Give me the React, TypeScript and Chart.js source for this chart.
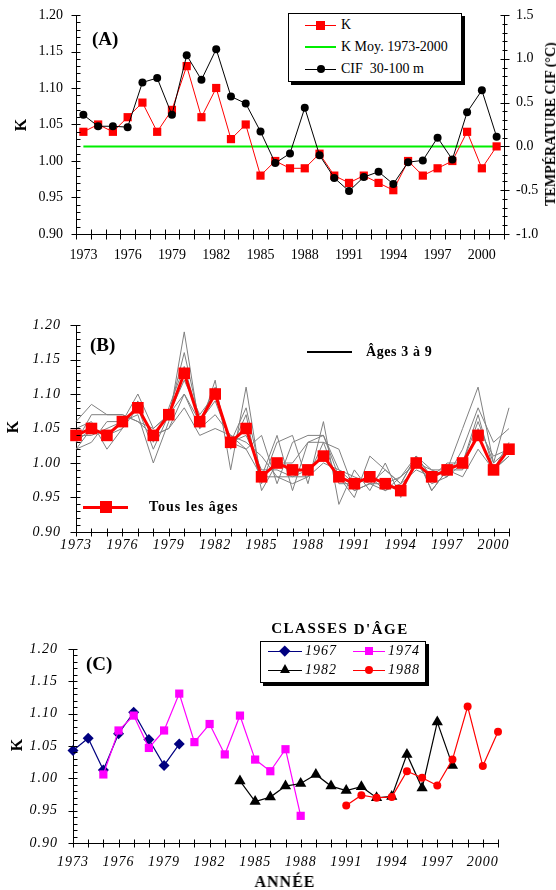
import React, { useEffect, useRef } from "react";
import { Chart, registerables } from "chart.js";
Chart.register(...registerables);

const FONT = '"Liberation Serif", "Times New Roman", serif';

const years = ["1973","1974","1975","1976","1977","1978","1979","1980","1981","1982","1983","1984","1985","1986","1987","1988","1989","1990","1991","1992","1993","1994","1995","1996","1997","1998","1999","2000","2001"];

// Panel A
const kValues = [1.04,1.05,1.04,1.06,1.08,1.04,1.07,1.13,1.06,1.10,1.03,1.05,0.98,1.00,0.99,0.99,1.01,0.98,0.97,0.98,0.97,0.96,1.00,0.98,0.99,1.00,1.04,0.99,1.02];
const kMean = 1.02;
const cifValues = [0.36,0.23,0.23,0.22,0.73,0.78,0.36,1.04,0.76,1.11,0.57,0.49,0.17,-0.19,-0.08,0.44,-0.10,-0.36,-0.51,-0.35,-0.29,-0.43,-0.18,-0.16,0.10,-0.15,0.39,0.64,0.11];

// Panel B : ages 3 to 9
const age3 = [1.02,1.03,1.06,1.06,1.07,1.00,1.06,1.19,1.05,1.12,0.99,1.11,0.97,1.03,1.04,0.97,1.06,0.94,0.99,0.96,1.00,0.95,1.01,0.96,0.99,1.05,1.11,1.00,1.08];
const age4 = [1.06,1.085,1.07,1.07,1.06,1.05,1.07,1.16,1.06,1.09,1.03,1.08,0.98,1.04,0.96,1.03,1.04,0.98,0.95,1.01,0.99,0.97,1.01,0.99,0.98,1.02,1.08,1.03,1.05];
const age5 = [1.05,1.06,1.02,1.05,1.09,1.03,1.08,1.14,1.06,1.11,1.02,1.07,0.96,1.00,1.00,1.03,1.03,0.97,0.97,0.98,0.96,0.98,1.01,0.98,1.00,1.00,1.07,0.99,1.03];
const age6 = [1.04,1.04,1.05,1.06,1.10,1.05,1.07,1.12,1.07,1.10,1.03,1.04,0.99,0.99,0.98,0.98,1.00,0.99,0.97,0.98,0.97,0.96,1.00,0.99,0.99,0.99,1.05,1.01,1.02];
const age7 = [1.03,1.05,1.04,1.06,1.08,1.02,1.07,1.10,1.06,1.10,1.03,1.02,0.98,0.98,0.98,0.99,1.01,0.98,0.96,0.97,0.96,0.97,0.99,0.98,0.99,1.00,1.04,0.99,1.01];
const age8 = [1.02,1.05,1.04,1.05,1.08,1.04,1.05,1.10,1.05,1.07,1.04,1.03,1.01,0.98,0.97,0.98,1.03,1.02,0.96,0.97,0.97,0.98,1.00,0.97,0.98,1.00,1.06,1.00,1.02];
const age9 = [1.03,1.07,1.07,1.07,1.06,1.04,1.05,1.08,1.04,1.05,1.04,1.02,1.04,0.97,1.03,1.04,1.04,0.99,0.98,0.97,0.99,0.97,1.01,0.96,0.99,0.98,1.02,0.99,1.01];
const allAges = [1.04,1.05,1.04,1.06,1.08,1.04,1.07,1.13,1.06,1.10,1.03,1.05,0.98,1.00,0.99,0.99,1.01,0.98,0.97,0.98,0.97,0.96,1.00,0.98,0.99,1.00,1.04,0.99,1.02];

// Panel C : year classes
const _ = null;
const cohort1967 = [1.043,1.062,1.013,1.069,1.102,1.060,1.020,1.053,_,_,_,_,_,_,_,_,_,_,_,_,_,_,_,_,_,_,_,_,_];
const cohort1974 = [_,_,1.006,1.074,1.097,1.047,1.074,1.131,1.056,1.084,1.037,1.097,1.029,1.011,1.045,0.942,_,_,_,_,_,_,_,_,_,_,_,_,_];
const cohort1982 = [_,_,_,_,_,_,_,_,_,_,_,0.996,0.964,0.971,0.988,0.992,1.006,0.988,0.981,0.987,0.970,0.972,1.037,0.985,1.087,1.020,_,_,_];
const cohort1988 = [_,_,_,_,_,_,_,_,_,_,_,_,_,_,_,_,_,_,0.958,0.974,0.970,0.971,1.011,1.001,0.989,1.029,1.111,1.019,1.072];

type Mark = { p: number; out: number; inn: number };
type TickSpec = { id: string; side: "bottom" | "left" | "right"; marks: (s: any) => Mark[] };

function ticksPlugin(specs: TickSpec[], spacing: string) {
  return {
    id: "crossTicks",
    beforeDraw(chart: any) {
      (chart.ctx as any).letterSpacing = spacing;
    },
    afterDraw(chart: any) {
      const ctx = chart.ctx;
      ctx.save();
      ctx.strokeStyle = "#000";
      ctx.lineWidth = 1;
      ctx.beginPath();
      for (const sp of specs) {
        const s = chart.scales[sp.id];
        if (!s) continue;
        for (const m of sp.marks(s)) {
          const p = Math.round(m.p) + 0.5;
          if (sp.side === "bottom") {
            const y = Math.round(s.top) + 0.5;
            ctx.moveTo(p, y - m.inn);
            ctx.lineTo(p, y + m.out);
          } else if (sp.side === "left") {
            const x = Math.round(s.right) + 0.5;
            ctx.moveTo(x - m.out, p);
            ctx.lineTo(x + m.inn, p);
          } else {
            const x = Math.round(s.left) + 0.5;
            ctx.moveTo(x - m.inn, p);
            ctx.lineTo(x + m.out, p);
          }
        }
      }
      ctx.stroke();
      ctx.restore();
      (ctx as any).letterSpacing = "0px";
    },
  };
}

const yMarks = (min: number, max: number, minor: number, ratio: number, majOut: number, majIn: number, minOut: number, minIn: number) => (s: any) => {
  const arr: Mark[] = [];
  const n = Math.round((max - min) / minor);
  for (let i = 0; i <= n; i++) {
    const major = i % ratio === 0;
    arr.push({ p: s.getPixelForValue(min + i * minor), out: major ? majOut : minOut, inn: major ? majIn : minIn });
  }
  return arr;
};
const catBoundMarks = (len: number) => (s: any) => {
  const n = years.length;
  const arr: Mark[] = [];
  for (let k = 0; k <= n; k++) arr.push({ p: s.left + (k * (s.right - s.left)) / n, out: len, inn: len });
  return arr;
};
const catCenterMarks = (len: number) => (s: any) => years.map((_y, i) => ({ p: s.getPixelForValue(i), out: len, inn: len }));

const every3 = (_v: any, i: number) => (i % 3 === 0 ? years[i] : "");

const fixV = (w: number) => (s: any) => { s.width = w; s.paddingTop = 0; s.paddingBottom = 0; };

function baseOptions(padTop: number, padRight: number) {
  return {
    responsive: false,
    animation: false as const,
    devicePixelRatio: 1,
    layout: { padding: { top: padTop, left: 0, right: padRight, bottom: 0 } },
    plugins: { legend: { display: false }, tooltip: { enabled: false } },
    elements: { line: { tension: 0 } },
  };
}

function makeA(canvas: HTMLCanvasElement) {
  return new Chart(canvas, {
    type: "line",
    data: {
      labels: years,
      datasets: [
        { label: "CIF  30-100 m", data: cifValues, yAxisID: "y1", borderColor: "#000", backgroundColor: "#000", borderWidth: 1, pointStyle: "circle", pointRadius: 4, pointBorderWidth: 0, clip: false },
        { label: "K", data: kValues, yAxisID: "y", borderColor: "#ff0000", backgroundColor: "#ff0000", borderWidth: 1, pointStyle: "rect", pointRadius: 5.8, pointBorderWidth: 0, clip: false },
        { label: "K Moy. 1973-2000", data: years.map(() => kMean), yAxisID: "y", borderColor: "#00ee00", borderWidth: 2, pointRadius: 0, clip: false },
      ],
    },
    options: {
      ...baseOptions(15, 0),
      scales: {
        x: {
          type: "category", offset: true,
          grid: { display: false, drawTicks: false, offset: true },
          border: { color: "#000", width: 1 },
          ticks: { autoSkip: false, maxRotation: 0, padding: 13, color: "#000", font: { family: FONT, size: 14 }, callback: every3 },
          afterFit: (s: any) => { s.height = 41; },
        },
        y: {
          position: "left", min: 0.9, max: 1.2,
          grid: { display: false, drawTicks: false },
          border: { color: "#000", width: 1 },
          ticks: { stepSize: 0.05, padding: 13, color: "#000", font: { family: FONT, size: 14 }, callback: (v: any) => Number(v).toFixed(2) },
          afterFit: fixV(76),
        },
        y1: {
          position: "right", min: -1, max: 1.5,
          grid: { display: false, drawTicks: false },
          border: { color: "#000", width: 1 },
          ticks: { stepSize: 0.5, padding: 12, color: "#000", font: { family: FONT, size: 14 }, callback: (v: any) => Number(v).toFixed(1) },
          afterFit: fixV(52),
        },
      },
    } as any,
    plugins: [ticksPlugin([
      { id: "x", side: "bottom", marks: catBoundMarks(5) },
      { id: "y", side: "left", marks: yMarks(0.9, 1.2, 0.01, 5, 5, 4, 0, 4) },
      { id: "y1", side: "right", marks: yMarks(-1, 1.5, 0.1, 5, 5, 4, 3, 2) },
    ], "0px")],
  });
}

function makeB(canvas: HTMLCanvasElement) {
  const grey = (d: number[]) => ({ data: d, borderColor: "#808080", borderWidth: 1, pointRadius: 0, clip: false });
  return new Chart(canvas, {
    type: "line",
    data: {
      labels: years,
      datasets: [
        { label: "Tous les âges", data: allAges, borderColor: "#ff0000", backgroundColor: "#ff0000", borderWidth: 3, pointStyle: "rect", pointRadius: 8.2, pointBorderWidth: 0, clip: false },
        { label: "Âge 3", ...grey(age3) },
        { label: "Âge 4", ...grey(age4) },
        { label: "Âge 5", ...grey(age5) },
        { label: "Âge 6", ...grey(age6) },
        { label: "Âge 7", ...grey(age7) },
        { label: "Âge 8", ...grey(age8) },
        { label: "Âge 9", ...grey(age9) },
      ],
    },
    options: {
      ...baseOptions(45, 47),
      scales: {
        x: {
          type: "category", offset: false,
          grid: { display: false, drawTicks: false },
          border: { color: "#000", width: 1 },
          ticks: { autoSkip: false, maxRotation: 0, padding: 5, color: "#000", font: { family: FONT, size: 14, style: "italic" }, callback: every3 },
          afterFit: (s: any) => { s.height = 48; },
        },
        y: {
          position: "left", min: 0.9, max: 1.2,
          grid: { display: false, drawTicks: false },
          border: { color: "#000", width: 1 },
          ticks: { stepSize: 0.05, padding: 15, color: "#000", font: { family: FONT, size: 14, style: "italic" }, callback: (v: any) => Number(v).toFixed(2) },
          afterFit: fixV(76),
        },
      },
    } as any,
    plugins: [ticksPlugin([
      { id: "x", side: "bottom", marks: catCenterMarks(4) },
      { id: "y", side: "left", marks: yMarks(0.9, 1.2, 0.01, 5, 6, 4, 0, 4) },
    ], "1px")],
  });
}

function makeC(canvas: HTMLCanvasElement) {
  return new Chart(canvas, {
    type: "line",
    data: {
      labels: years,
      datasets: [
        { label: "1988", data: cohort1988, borderColor: "#ff0000", backgroundColor: "#ff0000", borderWidth: 1.2, pointStyle: "circle", pointRadius: 4, pointBorderWidth: 0, clip: false, spanGaps: false },
        { label: "1982", data: cohort1982, borderColor: "#000", backgroundColor: "#000", borderWidth: 1.2, pointStyle: "triangle", pointRadius: 6.5, pointBorderWidth: 0, clip: false, spanGaps: false },
        { label: "1974", data: cohort1974, borderColor: "#ff00ff", backgroundColor: "#ff00ff", borderWidth: 1.2, pointStyle: "rect", pointRadius: 5.8, pointBorderWidth: 0, clip: false, spanGaps: false },
        { label: "1967", data: cohort1967, borderColor: "#000080", backgroundColor: "#000080", borderWidth: 1.2, pointStyle: "rectRot", pointRadius: 5.5, pointBorderWidth: 0, clip: false, spanGaps: false },
      ],
    },
    options: {
      ...baseOptions(49, 58),
      scales: {
        x: {
          type: "category", offset: false,
          grid: { display: false, drawTicks: false },
          border: { color: "#000", width: 1 },
          ticks: { autoSkip: false, maxRotation: 0, padding: 11, color: "#000", font: { family: FONT, size: 14, style: "italic" }, callback: every3 },
          afterFit: (s: any) => { s.height = 47; },
        },
        y: {
          position: "left", min: 0.9, max: 1.2,
          grid: { display: false, drawTicks: false },
          border: { color: "#000", width: 1 },
          ticks: { stepSize: 0.05, padding: 15, color: "#000", font: { family: FONT, size: 14, style: "italic" }, callback: (v: any) => Number(v).toFixed(2) },
          afterFit: fixV(73),
        },
      },
    } as any,
    plugins: [ticksPlugin([
      { id: "x", side: "bottom", marks: catCenterMarks(4) },
      { id: "y", side: "left", marks: yMarks(0.9, 1.2, 0.01, 5, 5, 4, 0, 4) },
    ], "1px")],
  });
}

const abs = (x: number, y: number, extra: React.CSSProperties = {}): React.CSSProperties => ({
  position: "absolute", left: x, top: y, ...extra,
});

function Label({ x, y, children, style, rotate }: { x: number; y: number; children: React.ReactNode; style?: React.CSSProperties; rotate?: number }) {
  const t = rotate ? `translate(-50%, -50%) rotate(${rotate}deg)` : "translate(0, -50%)";
  return (
    <div style={{ position: "absolute", left: x, top: y, transform: t, whiteSpace: "pre", lineHeight: 1, fontFamily: FONT, color: "#000", ...style }}>
      {children}
    </div>
  );
}

function LineSample({ x1, x2, y, color, w }: { x1: number; x2: number; y: number; color: string; w: number }) {
  return <div style={abs(x1, y - w / 2, { width: x2 - x1, height: w, background: color })} />;
}

function Marker({ cx, cy, kind, color, size }: { cx: number; cy: number; kind: string; color: string; size: number }) {
  if (kind === "square") return <div style={abs(cx - size / 2, cy - size / 2, { width: size, height: size, background: color })} />;
  if (kind === "circle") return <div style={abs(cx - size / 2, cy - size / 2, { width: size, height: size, background: color, borderRadius: "50%" })} />;
  if (kind === "diamond") return <div style={abs(cx - size / 2, cy - size / 2, { width: size, height: size, background: color, transform: "rotate(45deg)" })} />;
  return <div style={abs(cx - size / 2, cy - size * 0.55, { width: 0, height: 0, borderLeft: `${size / 2}px solid transparent`, borderRight: `${size / 2}px solid transparent`, borderBottom: `${size * 0.9}px solid ${color}` })} />;
}

export default function App() {
  const refA = useRef<HTMLCanvasElement>(null);
  const refB = useRef<HTMLCanvasElement>(null);
  const refC = useRef<HTMLCanvasElement>(null);

  useEffect(() => {
    const charts = [makeA(refA.current!), makeB(refB.current!), makeC(refC.current!)];
    return () => charts.forEach((c) => c.destroy());
  }, []);

  const bold: React.CSSProperties = { fontWeight: "bold" };
  return (
    <div style={{ position: "absolute", left: 0, top: 0, width: 556, height: 890, background: "#fff", overflow: "hidden", fontFamily: FONT }}>
      <canvas ref={refA} width={556} height={275} style={{ position: "absolute", left: 0, top: 0 }} />
      <canvas ref={refB} width={556} height={300} style={{ position: "absolute", left: 0, top: 280 }} />
      <canvas ref={refC} width={556} height={290} style={{ position: "absolute", left: 0, top: 600 }} />

      {/* Panel A */}
      <Label x={92} y={38} style={{ ...bold, fontSize: 19 }}>(A)</Label>
      <Label x={21} y={125} rotate={-90} style={{ ...bold, fontSize: 16 }}>K</Label>
      <Label x={551} y={124} rotate={-90} style={{ ...bold, fontSize: 14 }}>TEMPÉRATURE CIF (°C)</Label>
      <div style={abs(291, 16, { width: 174, height: 69, background: "#000" })} />
      <div style={abs(288, 13, { width: 172, height: 67, background: "#fff", border: "1px solid #000" })} />
      <LineSample x1={305} x2={336} y={25} color="#ff0000" w={1} />
      <Marker cx={320.5} cy={25} kind="square" color="#ff0000" size={9} />
      <Label x={341} y={25} style={{ fontSize: 14 }}>K</Label>
      <LineSample x1={305} x2={336} y={46.5} color="#00ee00" w={2} />
      <Label x={341} y={46.5} style={{ fontSize: 14 }}>K Moy. 1973-2000</Label>
      <LineSample x1={305} x2={336} y={69} color="#000" w={1} />
      <Marker cx={320.5} cy={69} kind="circle" color="#000" size={8} />
      <Label x={341} y={69} style={{ fontSize: 14 }}>CIF  30-100 m</Label>

      {/* Panel B */}
      <Label x={90} y={344} style={{ ...bold, fontSize: 19 }}>(B)</Label>
      <Label x={13} y={427} rotate={-90} style={{ ...bold, fontSize: 16 }}>K</Label>
      <LineSample x1={307} x2={352} y={352} color="#000" w={2} />
      <Label x={366} y={352} style={{ ...bold, fontSize: 14, letterSpacing: 0.6 }}>Âges 3 à 9</Label>
      <LineSample x1={83} x2={128} y={507} color="#ff0000" w={3} />
      <Marker cx={106} cy={507} kind="square" color="#ff0000" size={12} />
      <Label x={149} y={507} style={{ ...bold, fontSize: 14, letterSpacing: 1 }}>Tous les âges</Label>

      {/* Panel C */}
      <Label x={86} y={663} style={{ ...bold, fontSize: 19 }}>(C)</Label>
      <Label x={17} y={745} rotate={-90} style={{ ...bold, fontSize: 16 }}>K</Label>
      <Label x={340} y={629} rotate={0.0001} style={{ ...bold, fontSize: 15, letterSpacing: 1.5 }}>CLASSES D'ÂGE</Label>
      <div style={abs(263, 644, { width: 166, height: 42, background: "#000" })} />
      <div style={abs(260, 641, { width: 164, height: 40, background: "#fff", border: "1px solid #000" })} />
      <LineSample x1={268} x2={302} y={651} color="#000080" w={1} />
      <Marker cx={285} cy={651} kind="diamond" color="#000080" size={7.5} />
      <Label x={305} y={651} style={{ fontSize: 14, fontStyle: "italic", letterSpacing: 1 }}>1967</Label>
      <LineSample x1={353} x2={385} y={651} color="#ff00ff" w={1} />
      <Marker cx={369} cy={651} kind="square" color="#ff00ff" size={8} />
      <Label x={388} y={651} style={{ fontSize: 14, fontStyle: "italic", letterSpacing: 1 }}>1974</Label>
      <LineSample x1={268} x2={302} y={670} color="#000" w={1} />
      <Marker cx={285} cy={670} kind="triangle" color="#000" size={11} />
      <Label x={305} y={670} style={{ fontSize: 14, fontStyle: "italic", letterSpacing: 1 }}>1982</Label>
      <LineSample x1={353} x2={385} y={670} color="#ff0000" w={1} />
      <Marker cx={369} cy={670} kind="circle" color="#ff0000" size={8} />
      <Label x={388} y={670} style={{ fontSize: 14, fontStyle: "italic", letterSpacing: 1 }}>1988</Label>
      <Label x={285} y={882} rotate={0.0001} style={{ ...bold, fontSize: 16, letterSpacing: 1 }}>ANNÉE</Label>
    </div>
  );
}
